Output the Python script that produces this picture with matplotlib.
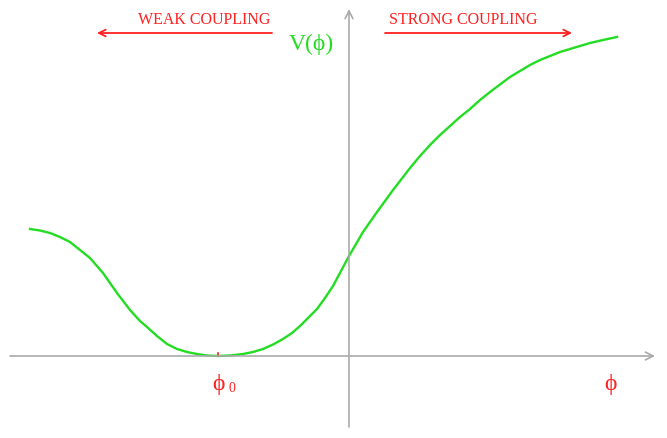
import matplotlib
matplotlib.use("Agg")
import matplotlib.pyplot as plt

# curve: phi (field), V(phi) (potential), arbitrary units
phi = [-3.19, -3.09, -2.99, -2.89, -2.79, -2.69, -2.59, -2.46, -2.32, -2.19,
       -2.09, -2.02, -1.92, -1.82, -1.72, -1.62, -1.52, -1.42, -1.31, -1.19,
       -1.06, -0.96, -0.86, -0.76, -0.66, -0.57, -0.49, -0.41, -0.32, -0.24,
       -0.16, -0.08, 0.0, 0.07, 0.14, 0.21, 0.28, 0.36, 0.44, 0.51,
       0.61, 0.71, 0.81, 0.91, 1.01, 1.11, 1.21, 1.31, 1.41, 1.51,
       1.61, 1.71, 1.81, 1.91, 2.01, 2.11, 2.21, 2.31, 2.41, 2.54, 2.68]
V = [1.27, 1.255, 1.23, 1.19, 1.14, 1.06, 0.98, 0.83, 0.63, 0.46,
     0.35, 0.29, 0.20, 0.12, 0.07, 0.04, 0.02, 0.005, 0.0, 0.005,
     0.02, 0.04, 0.07, 0.115, 0.17, 0.23, 0.30, 0.38, 0.47, 0.58,
     0.70, 0.85, 1.00, 1.12, 1.24, 1.34, 1.44, 1.55, 1.66, 1.75,
     1.88, 2.00, 2.11, 2.21, 2.30, 2.39, 2.47, 2.56, 2.64, 2.715,
     2.79, 2.85, 2.91, 2.96, 3.00, 3.04, 3.07, 3.10, 3.13, 3.16, 3.19]

phi0 = -1.31  # position of the minimum

green = "#22dd22"
red = "#ff2020"
grey = "#aaaaaa"
serif = ["Liberation Serif", "DejaVu Serif"]

fig = plt.figure(figsize=(6.67, 4.39), dpi=100)
ax = fig.add_axes([0, 0, 1, 1])
ax.set_xlim(-3.49, 3.18)
ax.set_ylim(-0.82, 3.57)
ax.axis("off")

# coordinate axes with open arrow heads
ax.annotate("", xy=(3.06, 0), xytext=(-3.39, 0),
            arrowprops=dict(arrowstyle="->", color=grey, lw=1.2,
                            shrinkA=0, shrinkB=0, mutation_scale=14))
ax.annotate("", xy=(0, 3.47), xytext=(0, -0.71),
            arrowprops=dict(arrowstyle="->", color=grey, lw=1.2,
                            shrinkA=0, shrinkB=0, mutation_scale=14))

ax.plot(phi, V, color=green, lw=1.7, solid_joinstyle="round")

# marker at the minimum
ax.plot([phi0, phi0], [0, 0.03], color=red, lw=1.2)

ax.text(phi0, -0.28, "\u03d5", color=red, fontsize=17, ha="center", va="center",
        family=serif)
ax.text(phi0 + 0.14, -0.32, "0", color=red, fontsize=10, ha="center", va="center",
        family=serif)
ax.text(2.61, -0.28, "\u03d5", color=red, fontsize=17, ha="center", va="center",
        family=serif)

ax.text(-0.38, 3.13, "V(\u03d5)", color=green, fontsize=17, ha="center",
        va="center", family=serif)

# coupling annotations
ax.text(-1.45, 3.37, "WEAK COUPLING", color=red, fontsize=11.5, ha="center",
        va="center", family=serif)
ax.annotate("", xy=(-2.52, 3.23), xytext=(-0.77, 3.23),
            arrowprops=dict(arrowstyle="->", color=red, lw=1.3,
                            shrinkA=0, shrinkB=0, mutation_scale=12))
ax.text(1.14, 3.37, "STRONG COUPLING", color=red, fontsize=11.5, ha="center",
        va="center", family=serif)
ax.annotate("", xy=(2.23, 3.23), xytext=(0.36, 3.23),
            arrowprops=dict(arrowstyle="->", color=red, lw=1.3,
                            shrinkA=0, shrinkB=0, mutation_scale=12))

fig.savefig("out.png", dpi=100, facecolor="white")
